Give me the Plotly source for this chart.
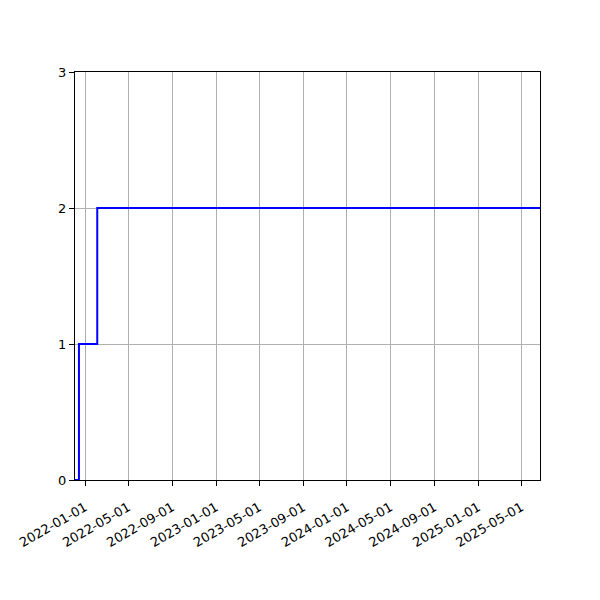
import plotly.graph_objects as go

dates = ["2021-12-04", "2021-12-15", "2022-02-04", "2025-06-22"]
counts = [0, 1, 2, 2]
x_ticks = ["2022-01-01", "2022-05-01", "2022-09-01", "2023-01-01", "2023-05-01",
           "2023-09-01", "2024-01-01", "2024-05-01", "2024-09-01", "2025-01-01",
           "2025-05-01"]
y_ticks = [0, 1, 2, 3]

fig = go.Figure()
fig.add_trace(go.Scatter(x=dates, y=counts, mode="lines",
                         line=dict(shape="hv", color="#0000ff", width=2)))

fig.update_layout(
    width=600, height=600,
    margin=dict(l=67, r=68, t=64, b=128),
    plot_bgcolor="white", paper_bgcolor="white",
    showlegend=False,
    font=dict(family="DejaVu Sans", size=13, color="black"),
)
fig.update_xaxes(
    range=[dates[0], dates[-1]], automargin=False,
    tickvals=x_ticks, ticktext=x_ticks, tickangle=-30,
    ticklabelstandoff=9,
    showgrid=True, gridcolor="#b0b0b0", gridwidth=1,
    showline=True, linecolor="black", linewidth=1, mirror=True,
    ticks="outside", ticklen=5, tickcolor="black",
    zeroline=False,
)
fig.update_yaxes(
    range=[0, 3], tickvals=y_ticks, automargin=False,
    showgrid=True, gridcolor="#b0b0b0", gridwidth=1,
    showline=True, linecolor="black", linewidth=1, mirror=True,
    ticks="outside", ticklen=5, tickcolor="black",
    zeroline=False,
)
fig.write_html("out.html")
